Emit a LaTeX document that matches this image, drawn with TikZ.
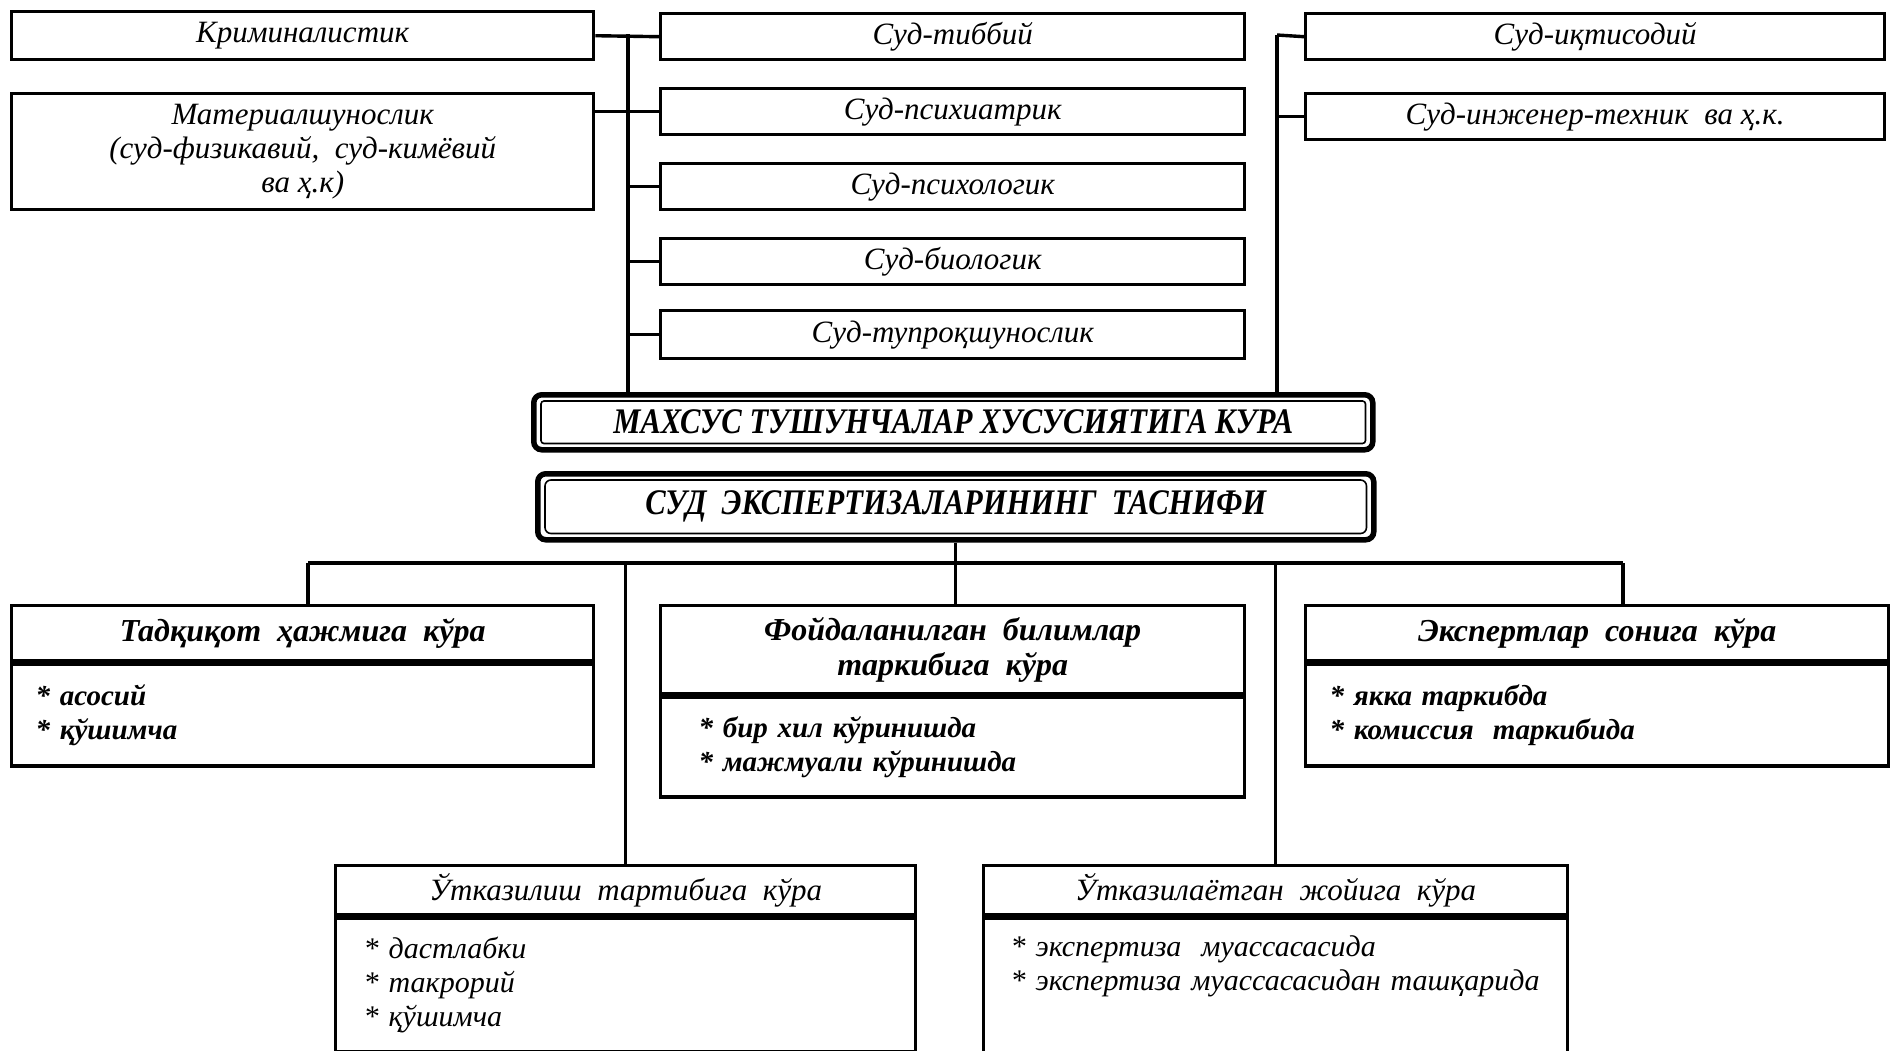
\documentclass[tikz,border=0pt]{standalone}
\usepackage{fontspec}
\setmainfont{Liberation Serif}
\newfontfamily\capsfont{Liberation Serif}[FakeStretch=0.85]
\begin{document}
\begin{tikzpicture}[x=1pt,y=-1pt,
  lbl/.style={draw, line width=3.4pt, inner sep=0pt, anchor=north west, align=center,
    font=\itshape\fontsize{31}{34}\selectfont},
  hd/.style={lbl, font=\bfseries\itshape\fontsize{32}{35}\selectfont},
  hdl/.style={lbl, font=\itshape\fontsize{31}{34}\selectfont},
  body/.style={lbl, align=left, font=\bfseries\itshape\fontsize{29}{34}\selectfont},
  bodyl/.style={lbl, align=left, font=\itshape\fontsize{30}{34}\selectfont},
  frame/.style={draw, line width=5.5pt, rounded corners=8pt, inner sep=0pt, anchor=north west,
    font=\capsfont\bfseries\itshape\fontsize{36}{38}\selectfont},
  inner/.style={line width=1.6pt, rounded corners=3pt},
  wire/.style={line width=3.4pt},
]
\useasboundingbox (0,0) rectangle (1893,1050);
\fill[white] (0,0) rectangle (1893,1050);

% top row, left
\node[lbl, minimum width=582pt, minimum height=48pt] (krim) at (10,10) {Криминалистик};
\node[lbl, minimum width=582pt, minimum height=116pt] (mat) at (10,92)
  {Материалшунослик\\(суд-физикавий,\ \ суд-кимёвий\\ва ҳ.к)};
% middle column
\node[lbl, minimum width=584pt, minimum height=46pt] (tibb) at (659,12) {Суд-тиббий};
\node[lbl, minimum width=584pt, minimum height=46pt] (psix) at (659,87) {Суд-психиатрик};
\node[lbl, minimum width=584pt, minimum height=46pt] (psixol) at (659,162) {Суд-психологик};
\node[lbl, minimum width=584pt, minimum height=46pt] (biol) at (659,237) {Суд-биологик};
\node[lbl, minimum width=584pt, minimum height=48pt] (tupr) at (659,309) {Суд-тупроқшунослик};
% right column
\node[lbl, minimum width=579pt, minimum height=46pt] (iqt) at (1304,12) {Суд-иқтисодий};
\node[lbl, minimum width=579pt, minimum height=46pt] (inzh) at (1304,92) {Суд-инженер-техник\ \ ва\ ҳ.к.};

% central headings
\node[frame, minimum width=839pt, minimum height=55pt] (mahsus) at (531,392)
  {МАХСУС ТУШУНЧАЛАР ХУСУСИЯТИГА КУРА};
\draw[inner] ([shift={(10,9)}]mahsus.north west) rectangle ([shift={(-10,-9)}]mahsus.south east);
\node[frame, minimum width=836pt, minimum height=66pt] (suds) at (535,471)
  {СУД\ \ ЭКСПЕРТИЗАЛАРИНИНГ\ \ ТАСНИФИ};
\draw[inner, rounded corners=6pt] ([shift={(10,9)}]suds.north west) rectangle ([shift={(-10,-9)}]suds.south east);

% top connectors
\coordinate (bl) at (628,34);
\coordinate (br) at (1277,35);
\draw[wire] (krim.east) -- (tibb.west);
\draw[wire] (mat.east |- psix.west) -- (psix.west);
\draw[wire] (bl) -- (bl |- mahsus.north);
\draw[wire] (bl |- psixol.west) -- (psixol.west);
\draw[wire] (bl |- biol.west) -- (biol.west);
\draw[wire] (bl |- tupr.west) -- (tupr.west);
\draw[wire] (br) -- (iqt.west);
\draw[wire] (br) -- (br |- mahsus.north);
\draw[wire] (br |- inzh.west) -- (inzh.west);

% bottom boxes
\node[hd, minimum width=582pt, minimum height=55pt] (tad) at (10,604) {Тадқиқот\ \ ҳажмига\ \ кўра};
\node[body, minimum width=582pt, minimum height=102pt, text width=534pt, inner xsep=24pt] (tadb) at (tad.south west)
  {{*} асосий\\{}{*} қўшимча};
\node[hd, minimum width=584pt, minimum height=88pt] (foyd) at (659,604) {Фойдаланилган\ \ билимлар\\таркибига\ \ кўра};
\node[body, minimum width=584pt, minimum height=100pt, text width=508pt, inner xsep=38pt] (foydb) at (foyd.south west)
  {{*} бир хил кўринишда\\{}{*} мажмуали кўринишда};
\node[hd, minimum width=583pt, minimum height=55pt] (eksp) at (1304,604) {Экспертлар\ \ сонига\ \ кўра};
\node[body, minimum width=583pt, minimum height=102pt, text width=535pt, inner xsep=24pt] (ekspb) at (eksp.south west)
  {{*} якка\ таркибда\\{}{*} комиссия\ \ таркибида};
\node[hdl, minimum width=580pt, minimum height=49pt] (utk1) at (334,864) {Ўтказилиш\ \ тартибига\ \ кўра};
\node[bodyl, minimum width=580pt, minimum height=134pt, text width=524pt, inner xsep=28pt] (utk1b) at (utk1.south west)
  {{*} дастлабки\\{}{*} такрорий\\{}{*} қўшимча};
\node[hdl, minimum width=584pt, minimum height=49pt] (utk2) at (982,864) {Ўтказилаётган\ \ жойига\ \ кўра};
\node[bodyl, minimum width=584pt, minimum height=135pt, text width=530pt, inner xsep=27pt] (utk2b) at (utk2.south west)
  {{*} экспертиза\ \ муассасасида\\{}{*} экспертиза муассасасидан ташқарида\\{}\strut};

% bottom connectors
\coordinate (hub) at (suds.south |- 0,563);
\coordinate (hl) at (308,563);
\coordinate (hr) at (1623,563);
\draw[wire] (suds.south) -- (hub);
\draw[wire] (hl) -- (hr);
\draw[wire] (hl) -- (hl |- tad.north);
\draw[wire] (hub) -- (hub |- foyd.north);
\draw[wire] (hr) -- (hr |- eksp.north);
\draw[wire] (utk1.north |- hub) -- (utk1.north);
\draw[wire] (utk2.north |- hub) -- (utk2.north);
\end{tikzpicture}
\end{document}
